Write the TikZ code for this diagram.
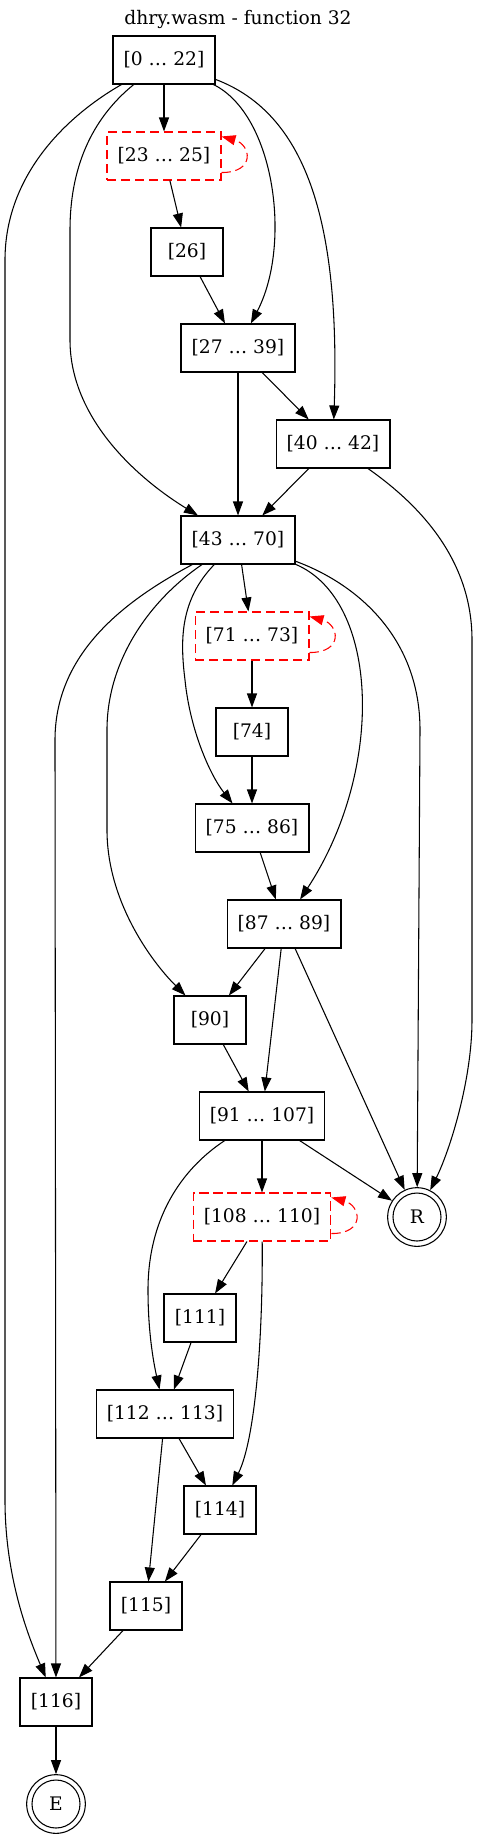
\documentclass[tikz,border=0pt]{standalone}
\usepackage{fontspec}
\setmainfont{DejaVu Serif}
\usepackage{tikz}
\usetikzlibrary{arrows.meta}

\begin{document}
\begin{tikzpicture}[x=0.75pt,y=-0.75pt,
    font=\fontsize{14}{16}\selectfont,
    block/.style={draw,line width=0.8pt,minimum width=54pt,minimum height=36pt,inner xsep=8pt},
    loopblock/.style={block,draw=red,dash pattern=on 7pt off 3.5pt},
    term/.style={circle,draw,line width=0.8pt,minimum size=44pt,inner sep=0pt,
      path picture={\draw[line width=0.8pt] (path picture bounding box.center) circle (18pt);}},
    flow/.style={-{Triangle[length=10.5pt,width=7.5pt]},line width=0.8pt},
    selfloop/.style={flow,red,dash pattern=on 7pt off 3.5pt}]
  \useasboundingbox (0,0) rectangle (477,1839);

  % Title
  \node (title) at (238,19) {dhry.wasm - function 32};

  % Blocks
  \node[block] (n0) at (164,60) {[0 … 22]};
  \node[loopblock] (n23) at (164,156) {[23 … 25]};
  \node[block] (n26) at (187,252) {[26]};
  \node[block] (n27) at (238,348) {[27 … 39]};
  \node[block] (n40) at (333,444) {[40 … 42]};
  \node[block] (n43) at (238,540) {[43 … 70]};
  \node[loopblock] (n71) at (252,636) {[71 … 73]};
  \node[block] (n74) at (252,732) {[74]};
  \node[block] (n75) at (252,828) {[75 … 86]};
  \node[block] (n87) at (284,924) {[87 … 89]};
  \node[block] (n90) at (210,1020) {[90]};
  \node[block] (n91) at (262,1116) {[91 … 107]};
  \node[loopblock] (n108) at (262,1217) {[108 … 110]};
  \node[block] (n111) at (200,1318) {[111]};
  \node[block] (n112) at (165,1414) {[112 … 113]};
  \node[block] (n114) at (220,1510) {[114]};
  \node[block] (n115) at (146,1606) {[115]};
  \node[block] (n116) at (56,1702) {[116]};

  % Exits
  \node[term] (R) at (417,1217) {R};
  \node[term] (E) at (56,1804) {E};

  % Self loops
  \draw[selfloop] ([yshift=-12.4pt]n23.east) .. controls +(26pt,0pt) and +(22pt,-6pt) .. ([yshift=-3.75pt]n23.north east);
  \draw[selfloop] ([yshift=-12.4pt]n71.east) .. controls +(26pt,0pt) and +(22pt,-6pt) .. ([yshift=-3.75pt]n71.north east);
  \draw[selfloop] ([yshift=-12.4pt]n108.east) .. controls +(26pt,0pt) and +(22pt,-6pt) .. ([yshift=-3.75pt]n108.north east);

  % Edges from [0 ... 22]
  \draw[flow] (n0) -- (n23);
  \draw[flow] (n0) .. controls (275,115) and (292,245) .. (n27);
  \draw[flow] (n0) .. controls (310,115) and (340,230) .. (n40);
  \draw[flow] (n0) .. controls (90,120) and (70,170) .. (70,230) -- (70,340)
    .. controls (70,420) and (140,480) .. (n43);
  \draw[flow] (n0) .. controls (60,120) and (5,180) .. (5,260) -- (5,1500)
    .. controls (5,1580) and (30,1640) .. (n116);

  % Upper part
  \draw[flow] (n23) -- (n26);
  \draw[flow] (n26) -- (n27);
  \draw[flow] (n27) -- (n43);
  \draw[flow] (n27) -- (n40);
  \draw[flow] (n40) -- (n43);
  \draw[flow] (n40) .. controls (420,505) and (472,560) .. (472,640) -- (472,1020)
    .. controls (472,1080) and (450,1150) .. (R);

  % Edges from [43 ... 70]
  \draw[flow] (n43) -- (n71);
  \draw[flow] (n43) .. controls (130,598) and (55,650) .. (55,740) -- (n116);
  \draw[flow] (n43) .. controls (150,600) and (107,660) .. (107,730) -- (107,830)
    .. controls (107,900) and (150,960) .. (n90);
  \draw[flow] (n43) .. controls (180,600) and (180,640) .. (185,680)
    .. controls (190,730) and (210,775) .. (n75);
  \draw[flow] (n43) .. controls (380,600) and (385,770) .. (n87);
  \draw[flow] (n43) .. controls (360,585) and (420,640) .. (420,730) -- (R);

  % Middle part
  \draw[flow] (n71) -- (n74);
  \draw[flow] (n74) -- (n75);
  \draw[flow] (n75) -- (n87);
  \draw[flow] (n87) -- (n90);
  \draw[flow] (n87) -- (n91);
  \draw[flow] (n87) -- (R);
  \draw[flow] (n90) -- (n91);
  \draw[flow] (n91) -- (n108);
  \draw[flow] (n91) -- (R);
  \draw[flow] (n91) .. controls (180,1170) and (148,1220) .. (148,1290)
    .. controls (148,1330) and (153,1360) .. (n112);

  % Lower part
  \draw[flow] (n108) -- (n111);
  \draw[flow] (n108) .. controls (263,1340) and (255,1440) .. (n114);
  \draw[flow] (n111) -- (n112);
  \draw[flow] (n112) -- (n114);
  \draw[flow] (n112) -- (n115);
  \draw[flow] (n114) -- (n115);
  \draw[flow] (n115) -- (n116);
  \draw[flow] (n116) -- (E);
\end{tikzpicture}
\end{document}
